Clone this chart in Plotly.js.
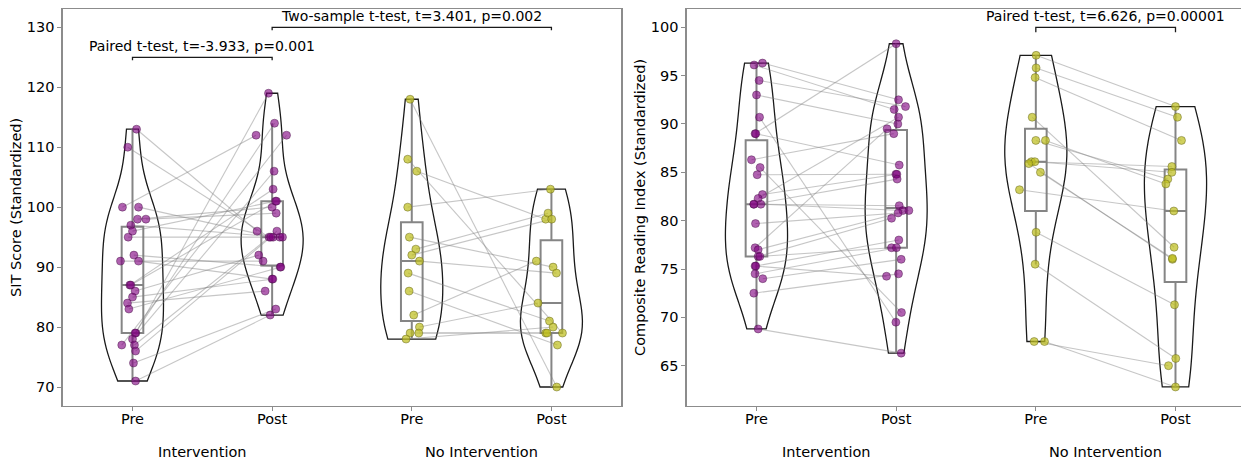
<!DOCTYPE html>
<html>
<head>
<meta charset="utf-8">
<script src="https://cdn.plot.ly/plotly-3.0.1.min.js"></script>
<style>
  html, body { margin: 0; padding: 0; background: #fff; }
  #chart { width: 1241px; height: 460px; }
</style>
</head>
<body>
<div id="chart"></div>
<script>
// ---------------- DATA ----------------
// Category tick labels
const tickLabels = ['Pre', 'Post', 'Pre', 'Post'];
const groupLabels = ['Intervention', 'No Intervention'];

// SIT Score – Intervention (paired: index i of Pre pairs with index i of Post)
const sitIntPre  = [113, 110, 100, 100, 98, 98, 97, 96, 95, 92, 91, 91, 87, 87, 86, 85, 84, 83, 79, 79, 78, 77, 77, 76, 74, 71];
const sitIntPost = [96, 95, 112, 95, 100, 99, 95, 101, 95, 90, 91, 88, 103, 101, 92, 88, 86, 90, 119, 114, 106, 112, 96, 95, 83, 82];
// SIT Score – No Intervention
const sitNoPre   = [118, 108, 106, 100, 95, 93, 92, 91, 89, 86, 82, 80, 79, 79, 78];
const sitNoPost  = [70, 79, 98, 103, 90, 99, 98, 89, 81, 77, 91, 84, 79, 79, 80];

// Composite Reading Index – Intervention
const criIntPre  = [96.3, 96.1, 94.5, 93.0, 90.7, 89.0, 89.0, 86.3, 85.5, 84.75, 82.7, 82.3, 81.7, 81.7, 81.7, 79.7, 77.2, 77.0, 76.3, 76.3, 75.3, 75.3, 74.5, 74.0, 72.5, 68.8];
const criIntPost = [92.5, 91.5, 91.8, 90.0, 69.5, 98.3, 85.75, 89.0, 70.5, 84.8, 84.8, 90.7, 81.55, 81.05, 84.3, 80.8, 89.5, 81.05, 80.25, 77.2, 78.0, 74.25, 77.2, 76.0, 74.5, 66.3];
// Composite Reading Index – No Intervention
const criNoPre   = [97.1, 95.8, 94.8, 90.7, 88.3, 88.3, 86.1, 86.1, 85.9, 85.0, 83.2, 78.8, 75.5, 67.5, 67.5];
const criNoPost  = [91.8, 90.7, 88.3, 77.25, 84.3, 83.8, 85.6, 85.0, 76.0, 76.1, 81.0, 71.3, 65.75, 65.0, 62.8];

// Strip-plot horizontal jitter (category units)
const sitIntPreJit  = [0.029, -0.034, -0.072, 0.043, 0.036, 0.096, -0.012, 0, -0.031, 0.01, -0.086, 0.043, -0.019, -0.012, 0.019, 0, -0.036, -0.026, 0.024, 0.019, 0, -0.077, 0.014, 0.022, 0.007, 0.022];
const sitIntPostJit = [-0.108, -0.022, -0.115, 0.007, 0, 0.029, 0.055, 0.024, 0.074, 0.058, -0.065, 0, 0.007, 0.031, -0.096, 0.005, -0.05, 0.062, -0.026, 0.017, 0.014, 0.103, 0.034, -0.01, 0.026, -0.014];
const sitNoPreJit   = [-0.012, -0.029, 0.036, -0.029, -0.017, 0.029, 0, 0.055, -0.026, -0.019, 0.014, 0.055, 0.05, -0.012, -0.041];
const sitNoPostJit  = [0.038, 0.079, -0.041, -0.007, 0.012, -0.024, 0.002, 0.036, -0.014, 0.043, -0.108, -0.096, -0.041, -0.031, 0.012];
const criIntPreJit  = [0.043, -0.017, 0.019, 0, 0.022, -0.01, -0.005, -0.036, 0.026, 0.005, 0.043, 0.012, -0.019, 0.031, -0.019, -0.007, -0.01, 0.012, 0.012, 0.024, -0.01, -0.005, -0.01, 0.045, -0.019, 0.012];
const criIntPostJit = [0.017, -0.014, 0.067, 0.012, -0.002, 0, 0.022, -0.017, 0.038, -0.002, 0.005, 0.017, 0.022, 0.048, 0.007, 0.014, -0.065, 0.091, -0.033, -0.033, 0.019, -0.069, 0.002, 0.036, 0.017, 0.036];
const criNoPreJit   = [0.002, 0.002, -0.005, -0.026, 0, 0.069, -0.031, -0.007, -0.05, 0.033, -0.117, 0.002, -0.005, -0.012, 0.062];
const criNoPostJit  = [0, 0.014, 0.043, -0.01, -0.055, -0.069, -0.026, -0.026, -0.022, -0.022, -0.012, -0.007, 0.002, -0.05, 0];

// Statistical test labels
const sitPairedLabel = 'Paired t-test, t=-3.933, p=0.001';
const sitTwoLabel    = 'Two-sample t-test, t=3.401, p=0.002';
const criPairedLabel = 'Paired t-test, t=6.626, p=0.00001';

// ---------------- STYLE ----------------
const FONT = 'DejaVu Sans, sans-serif';
const FS = 14.5;
const PURPLE = 'rgba(128,0,128,0.62)';
const PURPLE_EDGE = 'rgba(70,20,70,0.55)';
const YELLOW = 'rgba(190,190,30,0.72)';
const YELLOW_EDGE = 'rgba(100,100,30,0.6)';
const SPINE = '#8c8c8c';
const BOXC = '#858585';

function scottBW(arr) {
  const n = arr.length;
  const m = arr.reduce((a, b) => a + b, 0) / n;
  const v = arr.reduce((a, b) => a + (b - m) * (b - m), 0) / (n - 1);
  return Math.sqrt(v) * Math.pow(n, -0.2);
}

// numpy-style (linear) percentile and Tukey whiskers
function boxStats(arr) {
  const s = arr.slice().sort((a, b) => a - b);
  const n = s.length;
  const q = p => {
    const idx = (n - 1) * p, lo = Math.floor(idx), hi = Math.ceil(idx);
    return s[lo] + (s[hi] - s[lo]) * (idx - lo);
  };
  const q1 = q(0.25), med = q(0.5), q3 = q(0.75), iqr = q3 - q1;
  const lf = Math.min(...s.filter(v => v >= q1 - 1.5 * iqr));
  const uf = Math.max(...s.filter(v => v <= q3 + 1.5 * iqr));
  return {q1, med, q3, lf, uf};
}

const traces = [];

function addGroup(xa, ya, pre, post, jPre, jPost, posPre, posPost, color, edge) {
  [[pre, posPre], [post, posPost]].forEach(([d, p]) => {
    traces.push({
      type: 'violin', y: d, x0: p, xaxis: xa, yaxis: ya,
      width: 0.444, scalemode: 'width', spanmode: 'hard',
      bandwidth: scottBW(d),
      points: false, box: {visible: false}, meanline: {visible: false},
      line: {color: '#1a1a1a', width: 1.3},
      fillcolor: 'rgba(255,255,255,0)',
      hoverinfo: 'skip', showlegend: false
    });
  });
  [[pre, posPre], [post, posPost]].forEach(([d, p]) => {
    const st = boxStats(d);
    traces.push({
      type: 'box', x: [p], xaxis: xa, yaxis: ya,
      q1: [st.q1], median: [st.med], q3: [st.q3],
      lowerfence: [st.lf], upperfence: [st.uf],
      width: 0.155, whiskerwidth: 0, boxpoints: false,
      line: {color: BOXC, width: 2},
      fillcolor: 'rgba(255,255,255,0)',
      hoverinfo: 'skip', showlegend: false
    });
  });
  const lx = [], ly = [];
  for (let i = 0; i < pre.length; i++) {
    lx.push(posPre + jPre[i], posPost + jPost[i], null);
    ly.push(pre[i], post[i], null);
  }
  traces.push({
    type: 'scatter', mode: 'lines', x: lx, y: ly, xaxis: xa, yaxis: ya,
    line: {color: 'rgba(128,128,128,0.45)', width: 1.1},
    hoverinfo: 'skip', showlegend: false
  });
  traces.push({
    type: 'scatter', mode: 'markers',
    x: pre.map((v, i) => posPre + jPre[i]).concat(post.map((v, i) => posPost + jPost[i])),
    y: pre.concat(post), xaxis: xa, yaxis: ya,
    marker: {color: color, size: 8, line: {color: edge, width: 0.8}},
    hoverinfo: 'skip', showlegend: false
  });
}

addGroup('x', 'y', sitIntPre, sitIntPost, sitIntPreJit, sitIntPostJit, 0, 1, PURPLE, PURPLE_EDGE);
addGroup('x', 'y', sitNoPre, sitNoPost, sitNoPreJit, sitNoPostJit, 2, 3, YELLOW, YELLOW_EDGE);
addGroup('x2', 'y2', criIntPre, criIntPost, criIntPreJit, criIntPostJit, 0, 1, PURPLE, PURPLE_EDGE);
addGroup('x2', 'y2', criNoPre, criNoPost, criNoPreJit, criNoPostJit, 2, 3, YELLOW, YELLOW_EDGE);

function bracket(xref, yref, x1, x2, y, h) {
  return {
    type: 'path', xref: xref, yref: yref,
    path: `M ${x1} ${y - h} L ${x1} ${y} L ${x2} ${y} L ${x2} ${y - h}`,
    line: {color: '#1a1a1a', width: 1.3}
  };
}

function statText(xref, yref, x, y, text) {
  return {
    xref: xref, yref: yref, x: x, y: y, text: text, showarrow: false,
    xanchor: 'center', yanchor: 'bottom', yshift: 1,
    font: {family: FONT, size: 14, color: '#000'}
  };
}

function groupText(xref, x, text) {
  return {
    xref: xref, yref: 'paper', x: x, y: 0.0174, text: text, showarrow: false,
    xanchor: 'center', yanchor: 'middle',
    font: {family: FONT, size: FS, color: '#000'}
  };
}

const axisCommon = {
  type: 'linear', showgrid: false, zeroline: false,
  showline: true, linecolor: SPINE, linewidth: 1.3,
  ticks: 'outside', ticklen: 4, tickwidth: 1, tickcolor: SPINE,
  tickfont: {family: FONT, size: FS, color: '#000'}
};

const layout = {
  width: 1241, height: 460,
  margin: {l: 0, r: 0, t: 0, b: 0},
  paper_bgcolor: '#fff', plot_bgcolor: '#fff',
  showlegend: false,
  violinmode: 'overlay', boxmode: 'overlay',
  font: {family: FONT, size: FS, color: '#000'},
  xaxis: Object.assign({}, axisCommon, {
    domain: [0.0505, 0.5006], range: [-0.5, 3.5], mirror: true,
    tickvals: [0, 1, 2, 3], ticktext: tickLabels, ticklabelstandoff: -4
  }),
  yaxis: Object.assign({}, axisCommon, {
    domain: [0.118, 0.9804], range: [66.88, 133.05], mirror: true,
    tickvals: [70, 80, 90, 100, 110, 120, 130],
    title: {text: 'SIT Score (Standardized)', standoff: 1, font: {family: FONT, size: FS, color: '#000'}}
  }),
  xaxis2: Object.assign({}, axisCommon, {
    domain: [0.5533, 1], range: [-0.5, 3.469], mirror: true, anchor: 'y2',
    tickvals: [0, 1, 2, 3], ticktext: tickLabels, ticklabelstandoff: -4
  }),
  yaxis2: Object.assign({}, axisCommon, {
    domain: [0.118, 0.9804], range: [60.86, 101.89], mirror: false, anchor: 'x2',
    tickvals: [65, 70, 75, 80, 85, 90, 95, 100],
    title: {text: 'Composite Reading Index (Standardized)', standoff: 1, font: {family: FONT, size: FS, color: '#000'}}
  }),
  shapes: [
    bracket('x', 'y', 0, 1, 125, 0.5),
    bracket('x', 'y', 1, 3, 130, 0.5),
    bracket('x2', 'y2', 2, 3, 100, 0.5)
  ],
  annotations: [
    statText('x', 'y', 0.5, 125, sitPairedLabel),
    statText('x', 'y', 2, 130, sitTwoLabel),
    statText('x2', 'y2', 2.5, 100, criPairedLabel),
    groupText('x', 0.5, groupLabels[0]),
    groupText('x', 2.5, groupLabels[1]),
    groupText('x2', 0.5, groupLabels[0]),
    groupText('x2', 2.5, groupLabels[1])
  ]
};

Plotly.newPlot('chart', traces, layout, {staticPlot: true, displayModeBar: false});
</script>
</body>
</html>
